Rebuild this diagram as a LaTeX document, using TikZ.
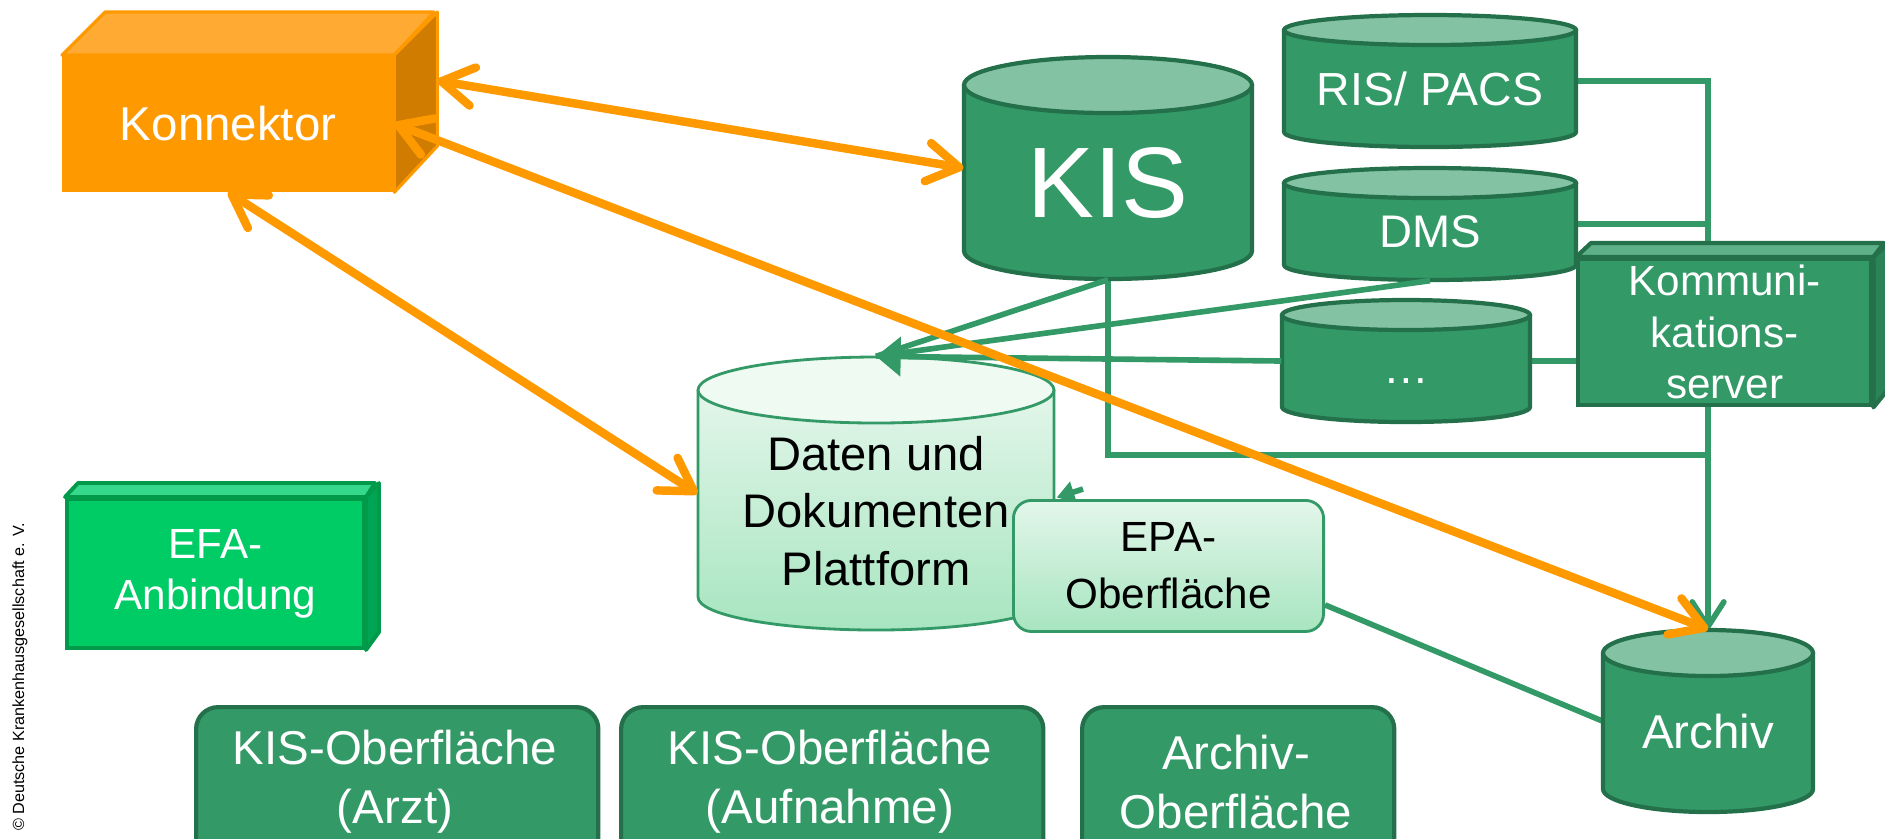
\documentclass[tikz,border=0pt]{standalone}
\usepackage{fontspec}
\setmainfont{Liberation Sans}
\usetikzlibrary{arrows.meta,calc}
\pgfdeclarelayer{back}
\pgfsetlayers{back,main}

\definecolor{gfill}{HTML}{339966}
\definecolor{gdark}{HTML}{23704A}
\definecolor{gtop}{HTML}{83C2A3}
\definecolor{orng}{HTML}{FF9900}
\definecolor{orngtop}{HTML}{FFAB33}
\definecolor{orngside}{HTML}{CF7C00}
\definecolor{efa}{HTML}{00CC66}
\definecolor{efatop}{HTML}{36D98B}
\definecolor{efaside}{HTML}{00A553}
\definecolor{efaedge}{HTML}{009A4A}
\definecolor{ksrvtop}{HTML}{5DB088}
\definecolor{ksrvside}{HTML}{2B8457}
\definecolor{palehi}{HTML}{EFFAF3}
\definecolor{paletop}{HTML}{E3F6EA}
\definecolor{palelo}{HTML}{A7E5C0}

\newcommand\fsz[2]{\fontsize{#1}{#2}\selectfont}

% upright drum: name, centre x, top y, bottom y, x radius, y radius, style
\newcommand\drum[7]{%
  \pgfmathsetmacro\cyL{#2-#5}\pgfmathsetmacro\cyR{#2+#5}%
  \pgfmathsetmacro\cyT{#3+#6}\pgfmathsetmacro\cyB{#4-#6}%
  \pgfmathsetmacro\cyKx{0.5523*#5}\pgfmathsetmacro\cyKy{0.5523*#6}%
  \draw[#7] (\cyL,\cyT) -- (\cyL,\cyB)
    .. controls (\cyL,\cyB+\cyKy) and (#2-\cyKx,#4) .. (#2,#4)
    .. controls (#2+\cyKx,#4) and (\cyR,\cyB+\cyKy) .. (\cyR,\cyB)
    -- (\cyR,\cyT) -- cycle;
  \draw[#7 top] (#2,\cyT) ellipse [x radius=#5, y radius=#6];
  \node[inner sep=0pt, minimum width={2*#5*0.01cm}, minimum height={(#4-#3)*0.01cm}]
    (#1) at (#2,{(#3+#4)/2}) {};
}

\begin{document}
\begin{tikzpicture}[x=0.01cm, y=-0.01cm,
  lbl/.style={text=white, align=center, inner sep=0pt},
  dlbl/.style={text=black, align=center, inner sep=0pt},
  gdrum/.style={fill=gfill, draw=gdark, line width=1.2pt, line join=round},
  gdrum top/.style={fill=gtop, draw=gdark, line width=1.2pt},
  pdrum/.style={top color=paletop, bottom color=palelo, draw=gfill, line width=0.8pt, line join=round},
  pdrum top/.style={fill=palehi, draw=gfill, line width=0.8pt},
  gline/.style={draw=gfill, line width=1.6pt},
  oarrow/.style={draw=orng, line width=2.4pt, line cap=round,
    {Straight Barb[length=9pt,width=11pt,round]}-{Straight Barb[length=9pt,width=11pt,round]}},
  gbox/.style={fill=gfill, draw=gdark, line width=1.2pt, rounded corners=0.22cm, inner sep=0pt, anchor=north west},
  face/.style={line width=0.9pt, line join=round}]

\useasboundingbox (0,0) rectangle (1885,838);
\clip (0,0) rectangle (1885,838);

% copyright line
\node[rotate=90, font=\fsz{4.6pt}{5pt}, inner sep=0pt] (copy) at (20,677)
  {© Deutsche Krankenhausgesellschaft e. V.};

% ---------- Konnektor ----------
\node[draw=orng, fill=orng, line width=0.9pt, minimum width=3.29cm, minimum height=1.34cm,
  inner sep=0pt, anchor=north west] (konn) at (62,55) {};
\draw[face, fill=orngtop, draw=orng] (konn.north west) -- ++(43,-43) -- ++(329,0) -- (konn.north east) -- cycle;
\draw[face, fill=orngside, draw=orng] (konn.north east) -- ++(43,-43) -- ++(0,134) -- (konn.south east) -- cycle;
\node[lbl, font=\fsz{13.5pt}{16pt}] (konn-t) at (konn.center) {Konnektor};

% ---------- EFA-Anbindung ----------
\node[draw=efaedge, fill=efa, line width=1.1pt, minimum width=2.97cm, minimum height=1.49cm,
  inner sep=0pt, anchor=north west] (efa) at (65,497) {};
\draw[face, fill=efatop, draw=efaedge, line width=1.1pt] (efa.north west) -- ++(13,-14) -- ++(297,0) -- (efa.north east) -- cycle;
\draw[face, fill=efaside, draw=efaedge, line width=1.1pt] (efa.north east) -- ++(13,-14) -- ++(0,149) -- (efa.south east) -- cycle;
\node[lbl, font=\fsz{12pt}{14.5pt}] (efa-t) at (efa.center) {EFA-\\Anbindung};

% ---------- drums ----------
\drum{kis}{1108}{57}{279}{144}{28}{gdrum}
\node[lbl, font=\fsz{28.5pt}{30pt}] (kis-t) at (1108,183) {KIS};

\drum{ris}{1430}{15}{147}{146}{15}{gdrum}
\node[lbl, font=\fsz{13.2pt}{16pt}] (ris-t) at (1430,89) {RIS/ PACS};

\drum{dms}{1430}{168}{280}{146}{15}{gdrum}
\node[lbl, font=\fsz{13pt}{16pt}] (dms-t) at (1430,232) {DMS};

\drum{dots}{1406}{300}{422}{124}{15}{gdrum}
\node[lbl, font=\fsz{13pt}{16pt}] (dots-t) at (1406,381) {…};

\drum{archiv}{1708}{630}{812}{105}{23}{gdrum}
\node[lbl, font=\fsz{13.5pt}{16pt}] (archiv-t) at (1708,732) {Archiv};

% ---------- Kommunikationsserver ----------
\node[draw=gdark, fill=gfill, line width=1.2pt, minimum width=2.93cm, minimum height=1.46cm,
  inner sep=0pt, anchor=north west] (ksrv) at (1576,257) {};
\draw[face, fill=ksrvtop, draw=gdark, line width=1.2pt] (ksrv.north west) -- ++(15,-14) -- ++(293,0) -- (ksrv.north east) -- cycle;
\draw[face, fill=ksrvside, draw=gdark, line width=1.2pt] (ksrv.north east) -- ++(15,-14) -- ++(0,146) -- (ksrv.south east) -- cycle;
\node[lbl, font=\fsz{12pt}{14.6pt}] (ksrv-t) at (ksrv.center) {Kommuni-\\kations-\\server};

% ---------- Daten- und Dokumentenplattform ----------
\drum{daten}{876}{357}{630}{178}{33}{pdrum}
\node[dlbl, font=\fsz{13.4pt}{16.4pt}] (daten-t) at (876,511) {Daten und\\Dokumenten\\Plattform};

% ---------- EPA-Oberfläche ----------
\node[top color=paletop, bottom color=palelo, draw=gfill, line width=0.8pt, rounded corners=0.18cm,
  minimum width=3.10cm, minimum height=1.31cm, inner sep=0pt, anchor=north west] (epa) at (1012,499) {};
\node[dlbl, font=\fsz{12pt}{16.2pt}] (epa-t) at (epa.center) {EPA-\\Oberfläche};

% ---------- user interfaces ----------
\node[gbox, minimum width=4.02cm, minimum height=1.80cm] (kisarzt) at (194,705) {};
\node[lbl, font=\fsz{13.5pt}{16.8pt}] (kisarzt-t) at (395,782) {KIS-Oberfläche\\(Arzt)};
\node[gbox, minimum width=4.22cm, minimum height=1.80cm] (kisauf) at (619,705) {};
\node[lbl, font=\fsz{13.5pt}{16.8pt}] (kisauf-t) at (830,782) {KIS-Oberfläche\\(Aufnahme)};
\node[gbox, minimum width=3.12cm, minimum height=1.80cm] (arcui) at (1080,705) {};
\node[lbl, font=\fsz{13.5pt}{16.8pt}] (arcui-t) at (1236,782) {Archiv-\\Oberfläche};

% ---------- green connectors ----------
\coordinate (tee) at (archiv.north |- 0,455);
\coordinate (stub) at ($(epa.north west)+(71,-10)$);
\coordinate (stubend) at ($(daten.east)+(2,4)$);
\coordinate (epaout) at ($(epa.south east)+(0,-28)$);
\begin{pgfonlayer}{back}
  \draw[gline] (ris.east) -- (ris.east -| tee) -- (ksrv.north -| tee);
  \draw[gline] (dms.east) -- (dms.east -| tee);
  \draw[gline] (dots.east) -- (dots.east -| ksrv.west);
  \draw[gline] (kis.south) -- (kis.south |- tee) -- (tee);
  \draw[gline, -{Straight Barb[length=7pt,width=9pt,round]}] (ksrv.south -| tee) -- (archiv.north);
  \draw[gline] (epaout) -- (archiv.west);
  \draw[gline, -{Triangle[length=5pt,width=6pt]}] (stub) -- (stubend);
\end{pgfonlayer}
\draw[gline] (kis.south) -- (daten.north);
\draw[gline] (dms.south) -- (daten.north);
\draw[gline, -{Triangle[length=7pt,width=11pt]}] (dots.west) -- (daten.north);

% ---------- orange links from the Konnektor ----------
\draw[oarrow] ($(konn.east)+(43,-43)$) -- (kis.west);
\draw[oarrow] (konn.east) -- (archiv.north);
\draw[oarrow] (konn.south) -- (daten.west);

\end{tikzpicture}
\end{document}
